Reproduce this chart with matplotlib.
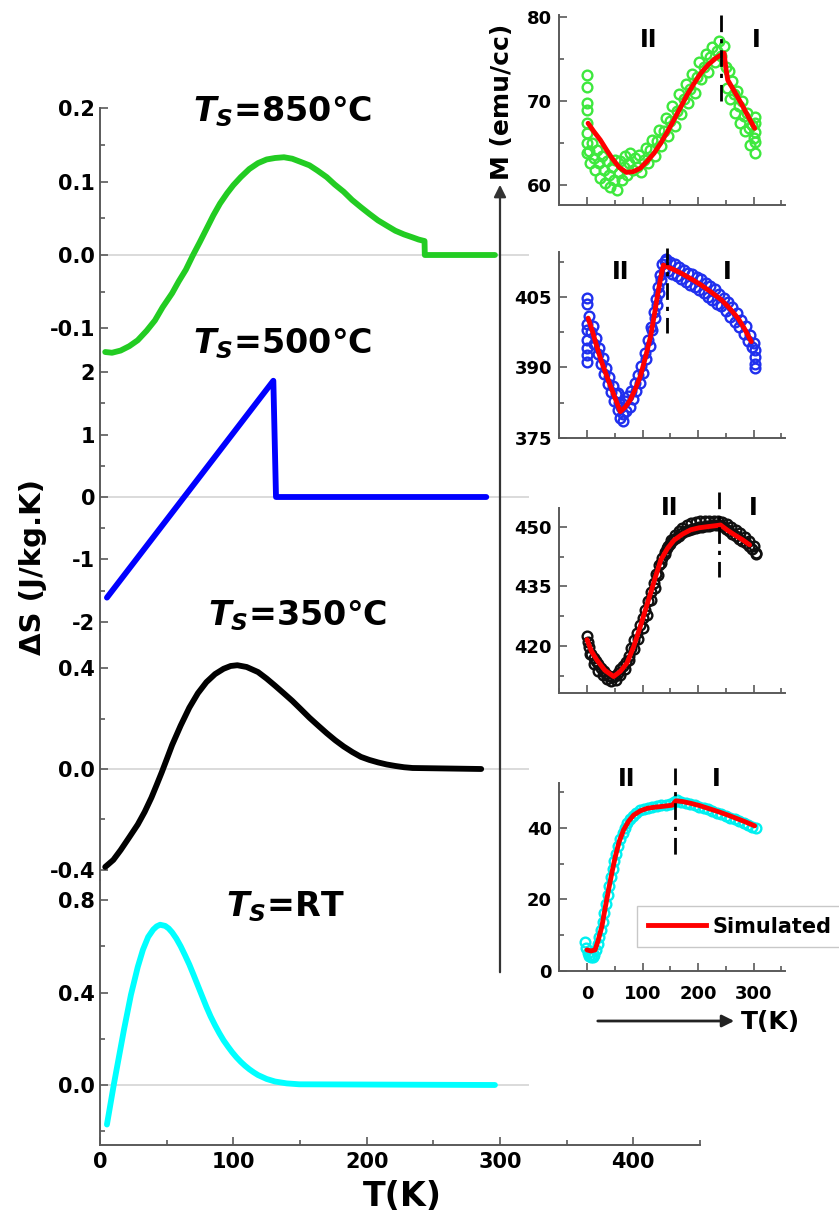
import matplotlib
matplotlib.use("Agg")
import matplotlib.pyplot as plt
from matplotlib.ticker import MultipleLocator, AutoMinorLocator, FormatStrFormatter
from matplotlib.lines import Line2D
from matplotlib.patches import FancyArrowPatch

'''Data read off the picture'''
# left: entropy change curves
T_850 = [3.9, 9.0, 15.5, 22.0, 28.3, 35.0, 41.2, 47.0, 54.1, 59.0, 64.4, 69.5, 74.7, 80.0, 85.0,
         90.0, 95.3, 100.0, 105.6, 112.0, 118.5, 125.0, 131.3, 138.0, 144.2, 150.0, 157.1, 163.0,
         170.0, 176.0, 182.8, 189.0, 195.7, 202.0, 208.6, 215.0, 221.5, 228.0, 234.4, 239.0,
         243.4, 243.6, 296.2]
dS_850 = [-0.132, -0.133, -0.130, -0.124, -0.116, -0.103, -0.089, -0.071, -0.052, -0.036, -0.020,
          -0.001, 0.017, 0.036, 0.054, 0.070, 0.084, 0.095, 0.106, 0.117, 0.125, 0.130, 0.132,
          0.133, 0.131, 0.127, 0.122, 0.115, 0.106, 0.096, 0.086, 0.075, 0.065, 0.056, 0.047,
          0.040, 0.033, 0.028, 0.024, 0.021, 0.019, 0.0, 0.0]

T_500 = [5.2, 130.0, 132.0, 289.7]
dS_500 = [-1.61, 1.86, 0.0, 0.0]

T_350 = [3.9, 10.0, 15.5, 22.0, 28.3, 33.5, 38.6, 42.5, 46.4, 50.3, 54.1, 60.5, 67.0, 73.4, 79.8,
         86.3, 92.7, 98.0, 103.0, 110.0, 118.5, 125.0, 131.3, 137.8, 144.2, 150.6, 157.1, 163.6,
         170.0, 176.4, 182.8, 189.3, 195.7, 202.0, 208.6, 215.0, 221.5, 228.0, 234.4, 285.9]
dS_350 = [-0.388, -0.360, -0.321, -0.270, -0.220, -0.170, -0.113, -0.063, -0.012, 0.042, 0.095,
          0.172, 0.243, 0.300, 0.344, 0.376, 0.397, 0.408, 0.411, 0.404, 0.384, 0.358, 0.330,
          0.300, 0.270, 0.237, 0.203, 0.172, 0.142, 0.114, 0.089, 0.067, 0.048, 0.036, 0.026,
          0.018, 0.012, 0.007, 0.004, 0.0]

T_RT = [5.2, 10.3, 18.0, 23.2, 28.3, 32.2, 36.1, 39.9, 42.5, 45.1, 48.9, 51.5, 54.1, 57.3, 60.5,
        63.7, 67.0, 70.2, 73.4, 76.6, 79.8, 83.0, 86.3, 89.5, 92.7, 96.0, 99.1, 102.3, 105.6,
        108.8, 112.0, 115.2, 118.5, 125.0, 131.3, 140.0, 149.4, 296.2]
dS_RT = [-0.171, 0.0, 0.24, 0.39, 0.51, 0.585, 0.64, 0.672, 0.686, 0.693, 0.688, 0.677, 0.66,
         0.633, 0.60, 0.562, 0.521, 0.476, 0.43, 0.384, 0.338, 0.296, 0.258, 0.224, 0.193, 0.166,
         0.142, 0.120, 0.100, 0.083, 0.068, 0.055, 0.043, 0.026, 0.015, 0.007, 0.003, 0.0]

# right insets: measured M (circles) and simulated fit (red)
T_dat1 = [0, 0, 0, 0, 0, 0, 0, 0, 4, 6, 9, 12, 15, 18, 21, 24, 27, 30, 33, 36, 39, 42, 45, 48, 51,
          54, 57, 60, 63, 66, 69, 72, 75, 78, 82, 86, 90, 94, 98, 102, 106, 110, 114, 118, 122,
          126, 130, 134, 138, 142, 146, 150, 154, 158, 162, 166, 170, 174, 178, 182, 186, 190,
          194, 198, 202, 206, 210, 214, 218, 222, 226, 230, 234, 238, 242, 246, 250, 252, 255,
          258, 261, 264, 267, 270, 273, 276, 279, 282, 285, 288, 291, 294, 297, 300, 303, 303,
          303, 303, 303]
M_dat1 = [73.1, 71.7, 69.8, 68.9, 67.4, 66.2, 65.0, 63.8, 64.0, 62.6, 65.0, 63.2, 61.8, 64.2, 62.6,
          60.8, 63.4, 61.8, 60.2, 62.8, 61.2, 59.8, 62.2, 60.6, 63.0, 59.4, 61.4, 62.8, 60.6, 62.2,
          63.4, 61.2, 62.6, 63.8, 61.8, 63.2, 62.2, 63.6, 61.6, 63.0, 64.4, 62.6, 64.2, 65.4, 63.4,
          65.2, 66.6, 64.6, 66.4, 68.0, 65.8, 67.6, 69.4, 67.0, 68.8, 70.8, 68.4, 70.2, 72.0, 69.8,
          71.4, 73.2, 71.0, 72.8, 74.6, 72.6, 74.0, 75.6, 73.4, 75.2, 76.4, 74.6, 76.0, 77.2, 75.4,
          76.6, 74.0, 71.6, 73.6, 70.2, 72.4, 70.8, 68.6, 71.2, 69.4, 67.4, 70.0, 68.2, 66.4, 68.6,
          66.8, 64.8, 67.2, 65.6, 68.1, 67.4, 66.3, 65.1, 63.8]
T_fit1 = [2, 12, 24, 35, 45, 58, 71, 84, 96, 108, 121, 133, 145, 157, 169, 181, 193, 205, 218, 232,
          247, 250, 253.6, 266, 278, 290, 302]
M_fit1 = [67.35, 66.4, 65.36, 64.2, 63.2, 62.1, 61.5, 61.6, 62.0, 62.8, 63.8, 65.0, 66.35, 67.8,
          69.3, 70.8, 72.1, 73.3, 74.3, 75.1, 75.7, 74.0, 72.5, 71.1, 69.7, 68.2, 66.75]

T_dat2 = [0, 0, 0, 0, 0, 0, 0, 0, 4, 7, 10, 13, 16, 19, 22, 25, 28, 31, 34, 37, 40, 43, 46, 49,
          52, 55, 56, 58, 60, 62, 64, 65, 68, 71, 74, 77, 80, 83, 86, 89, 92, 95, 98, 101, 104,
          107, 110, 113, 116, 118, 120, 122, 124, 126, 128, 130, 132, 134, 136, 138, 140, 142,
          146, 150, 154, 158, 162, 166, 170, 174, 178, 182, 186, 190, 194, 198, 202, 206, 210,
          214, 218, 222, 226, 230, 234, 238, 242, 246, 250, 254, 258, 262, 266, 270, 274, 278,
          282, 286, 290, 294, 297, 300, 302, 302, 303, 302]
M_dat2 = [404.8, 403.6, 399.2, 398.0, 395.8, 394.2, 392.6, 391.2, 401.0, 397.6, 398.9, 394.9,
          396.2, 392.8, 394.2, 390.7, 392.0, 388.6, 389.9, 386.5, 388.0, 384.7, 386.1, 382.8,
          384.3, 380.9, 384.6, 382.4, 379.2, 381.5, 378.6, 380.0, 382.8, 380.8, 383.9, 381.7,
          385.0, 383.3, 386.6, 384.9, 388.4, 386.6, 390.4, 388.9, 393.0, 391.8, 395.9, 394.6,
          398.6, 397.9, 401.8, 400.6, 404.6, 403.2, 407.2, 405.8, 409.6, 408.6, 412.0, 410.6,
          412.6, 413.0, 410.6, 412.4, 409.9, 412.0, 409.4, 411.4, 408.8, 410.8, 408.2, 410.2,
          407.6, 409.9, 407.2, 409.2, 406.4, 408.8, 405.8, 408.0, 405.0, 407.4, 404.4, 406.6,
          403.6, 405.6, 403.0, 404.8, 402.0, 403.9, 400.8, 402.8, 399.6, 401.6, 398.6, 400.2,
          397.2, 398.8, 395.6, 397.0, 394.4, 395.2, 393.8, 392.2, 390.8, 389.9]
T_fit2 = [2, 10, 17.6, 26, 35.8, 48, 60, 69, 78, 87, 96, 105, 114.5, 120.5, 126.7, 132, 137.6, 153,
          169, 187, 205, 223, 242, 257, 272, 284, 296]
M_fit2 = [400.5, 397.6, 394.5, 391.3, 388.1, 384.3, 380.6, 381.6, 383.1, 385.4, 388.1, 392.0,
          396.6, 400.6, 405.1, 408.6, 411.8, 411.0, 410.1, 408.9, 407.6, 406.1, 404.4, 402.6,
          400.5, 398.2, 395.5]

T_dat3a = [0, 4, 8, 12, 16, 20, 25, 30, 35, 40, 45, 50, 55, 60, 65, 70, 75, 80, 85, 90, 95, 100,
           105, 110, 115, 120, 125, 130, 135, 140, 145, 150, 155, 160, 166, 172, 178, 184, 190,
           196, 202, 208, 214, 220, 226, 232, 238, 244, 250, 256, 262, 268, 274, 280, 286, 292,
           298, 304]
M_dat3a = [422.5, 419.8, 418.0, 416.9, 416.2, 415.4, 414.5, 413.6, 412.9, 412.4, 412.2, 412.5,
           413.3, 414.2, 415.0, 415.9, 417.4, 419.4, 421.5, 423.3, 425.2, 427.0, 429.1, 431.3,
           433.5, 435.8, 438.2, 440.4, 442.1, 443.6, 444.8, 445.8, 446.6, 447.2, 447.8, 448.4,
           448.9, 449.3, 449.6, 449.8, 450.0, 450.1, 450.2, 450.3, 450.4, 450.5, 450.6, 450.3,
           449.6, 448.9, 448.3, 447.7, 447.1, 446.5, 445.9, 445.3, 444.5, 443.2]
T_dat3b = [2, 6, 12, 20, 28, 36, 44, 52, 60, 68, 76, 84, 92, 100, 108, 116, 122, 128, 134, 140,
           146, 152, 158, 165, 172, 180, 188, 196, 204, 212, 220, 228, 236, 244, 252, 260, 268,
           276, 284, 292, 300, 305]
M_dat3b = [421.0, 418.0, 415.5, 413.8, 412.6, 411.6, 411.2, 411.4, 412.6, 414.3, 416.5, 419.2,
           421.8, 424.5, 427.8, 431.5, 434.5, 437.8, 440.8, 443.3, 445.2, 446.8, 447.9, 448.9,
           449.7, 450.4, 450.9, 451.2, 451.4, 451.5, 451.6, 451.6, 451.6, 451.3, 450.8, 450.1,
           449.3, 448.4, 447.5, 446.5, 445.3, 443.5]
T_fit3 = [0, 8, 17.6, 32, 48, 60, 72, 84, 96, 105, 114.5, 124, 133, 145, 157, 172, 187, 202, 218,
          230, 240.6, 253, 266, 280, 293]
M_fit3 = [421.6, 418.7, 416.5, 413.9, 412.3, 413.6, 415.7, 419.8, 424.9, 429.0, 433.3, 437.7, 441.7,
          444.6, 446.7, 448.2, 449.3, 449.8, 450.1, 450.3, 450.5, 449.2, 448.0, 446.8, 445.5]

T_dat4 = [-3, -1, 1, 4, 7, 10, 13, 16, 19, 22, 25, 28, 31, 34, 37, 40, 43, 46, 49, 52, 56, 60,
          64, 68, 72, 77, 82, 88, 95, 102, 110, 118, 126, 134, 142, 150, 156, 162, 170, 178, 186,
          194, 202, 210, 218, 226, 234, 242, 250, 258, 266, 274, 282, 290, 298, 305]
M_dat4 = [8.0, 6.5, 5.0, 4.2, 3.8, 4.0, 4.6, 6.0, 7.6, 9.5, 11.5, 13.8, 16.3, 18.8, 21.3, 23.8,
          26.2, 28.5, 30.7, 32.7, 35.0, 37.0, 38.7, 40.1, 41.3, 42.5, 43.4, 44.2, 44.9, 45.3,
          45.7, 45.9, 46.1, 46.3, 46.5, 46.8, 47.3, 47.7, 47.4, 47.1, 46.8, 46.4, 46.0, 45.6,
          45.2, 44.8, 44.3, 43.9, 43.4, 42.9, 42.4, 41.9, 41.4, 40.9, 40.4, 40.0]
T_fit4 = [0, 7, 14.5, 20, 26.7, 32, 38.8, 45, 51, 58, 66, 75, 84, 96, 108.5, 121, 133, 144, 154,
          160, 172, 187, 202, 218, 236, 254, 269, 284, 302]
M_fit4 = [5.9, 5.6, 5.9, 8.5, 12.4, 17.0, 22.7, 27.6, 32.0, 36.2, 39.5, 41.9, 43.6, 44.8, 45.5,
          45.8, 46.0, 46.2, 46.4, 47.6, 47.4, 46.9, 46.3, 45.5, 44.6, 43.6, 42.7, 41.8, 40.6]

titles = ["=850°C", "=500°C", "=350°C", "=RT"]
T_cross = [242.3, 145, 238.4, 158.6]   # dash-dot transition line
'''Data read off the picture'''


plt.rcParams.update({
    "font.family": "DejaVu Sans",
    "font.weight": "bold",
    "axes.unicode_minus": False,
    "mathtext.fontset": "custom",
    "mathtext.it": "DejaVu Sans:italic:bold",
    "mathtext.rm": "DejaVu Sans:bold",
    "mathtext.bf": "DejaVu Sans:bold",
})

W, H = 839, 1218
fig = plt.figure(figsize=(W / 100, H / 100), dpi=100)
GREY = "#5a5a5a"


def px_box(l, t, r, b):
    return [l / W, 1 - b / H, (r - l) / W, (b - t) / H]


def lims(pa, va, pb, vb, top, bot):
    k = (va - vb) / (pb - pa)
    return vb - (bot - pb) * k, va + (pa - top) * k


def style(ax, labelsize, show_x):
    for s in ["top", "right"]:
        ax.spines[s].set_visible(False)
    ax.spines["left"].set_color(GREY)
    ax.spines["bottom"].set_color(GREY)
    ax.spines["left"].set_linewidth(1.4)
    ax.spines["bottom"].set_linewidth(1.4)
    ax.patch.set_alpha(0)
    ax.tick_params(which="both", direction="in", color=GREY, width=1.2, labelsize=labelsize)
    ax.tick_params(which="major", length=6)
    ax.tick_params(which="minor", length=3.5)
    if not show_x:
        ax.spines["bottom"].set_visible(False)
        ax.tick_params(axis="x", which="both", bottom=False, labelbottom=False)


# ---- left stacked panels ----
left_panels = [
    (T_850, dS_850, "#22cc22", (108, 365), lims(108, 0.2, 255, 0.0, 108, 365), 0.1, "%.1f"),
    (T_500, dS_500, "#0000ff", (365, 631), lims(372, 2, 497, 0, 365, 631), 1, "%d"),
    (T_350, dS_350, "#000000", (631, 880), lims(668, 0.4, 769, 0.0, 631, 880), 0.4, "%.1f"),
    (T_RT, dS_RT, "#00ffff", (880, 1145), lims(900, 0.8, 1085, 0.0, 880, 1145), 0.4, "%.1f"),
]
for i, (T, dS, col, (top, bot), yl, step, fmt) in enumerate(left_panels):
    ax = fig.add_axes(px_box(100, top, 700, bot))
    last = i == len(left_panels) - 1
    style(ax, 15, last)
    ax.set_xlim(0, 450)
    ax.set_ylim(yl[0] - 1e-4 * step, yl[1] + 1e-4 * step)
    ax.yaxis.set_major_locator(MultipleLocator(step))
    ax.yaxis.set_minor_locator(AutoMinorLocator(2))
    ax.yaxis.set_major_formatter(FormatStrFormatter(fmt))
    ax.hlines(0, 0, 322, color="#d8d8d8", lw=1.3, zorder=1)
    ax.plot(T, dS, color=col, lw=4.2, solid_capstyle="round", solid_joinstyle="round", zorder=3)
    if last:
        ax.xaxis.set_major_locator(MultipleLocator(100))
        ax.xaxis.set_minor_locator(MultipleLocator(50))
        ax.tick_params(axis="x", pad=5)

title_pos = [(283, 121), (283, 353), (298, 625), (285, 916)]
for txt, (x, y) in zip(titles, title_pos):
    fig.text(x / W, 1 - y / H, r"$T_S$" + txt, ha="center", va="baseline",
             fontsize=24, fontweight="bold")

fig.text(33 / W, 1 - 567 / H, "ΔS (J/kg.K)", rotation=90, ha="center", va="center",
         fontsize=21, fontweight="bold")
fig.text(402 / W, 1 - 1197 / H, "T(K)", ha="center", va="center", fontsize=24, fontweight="bold")

# ---- right insets ----
insets = [
    (T_dat1, M_dat1, T_fit1, M_fit1, "#3ee83e", (15, 205), lims(17, 80, 185, 60, 15, 205), 10),
    (T_dat2, M_dat2, T_fit2, M_fit2, "#2030ee", (252, 438), lims(297, 405, 438, 375, 252, 438), 15),
    (T_dat3a + T_dat3b, M_dat3a + M_dat3b, T_fit3, M_fit3, "#101010", (508, 693),
     lims(527, 450, 646, 420, 508, 693), 15),
    (T_dat4, M_dat4, T_fit4, M_fit4, "#00f0f0", (783, 971), lims(828, 40, 971, 0, 783, 971), 20),
]
lab_pos = [((110.7, 77.3), (304.5, 77.3)), ((61, 410.3), (253, 410.3)),
           ((149.5, 454.8), (300, 454.8)), ((72, 53.7), (233, 53.7))]
cross_span = [(80.2, 70.0), (415.5, 397.4), (458.8, 437.4), (56.8, 31.9)]

for i, (Td, Md, Tf, Mf, col, (top, bot), yl, step) in enumerate(insets):
    ax = fig.add_axes(px_box(559, top, 785, bot))
    style(ax, 13, True)
    ax.set_xlim((559 - 587) / 0.555, (785 - 587) / 0.555)
    ax.set_ylim(yl[0] - 1e-3, yl[1])
    ax.yaxis.set_major_locator(MultipleLocator(step))
    ax.yaxis.set_minor_locator(AutoMinorLocator(2))
    ax.xaxis.set_major_locator(MultipleLocator(100))
    ax.xaxis.set_minor_locator(MultipleLocator(50))
    ax.tick_params(axis="y", pad=5)
    ax.tick_params(axis="x", pad=10, labelbottom=(i == 3))
    ax.plot(Td, Md, "o", mfc="none", mec=col, ms=7, mew=1.7, zorder=2, clip_on=False)
    ax.plot(Tf, Mf, color="#ff0000", lw=3.5, solid_capstyle="round", solid_joinstyle="round",
            zorder=3)
    ax.plot([T_cross[i], T_cross[i]], cross_span[i], color="black", lw=2,
            linestyle=(0, (6, 2.5, 1.5, 2.5)), zorder=4, clip_on=False)
    (x2, y2), (x1, y1) = lab_pos[i]
    ax.text(x2, y2, "II", ha="center", va="center", fontsize=17, fontweight="bold", clip_on=False)
    ax.text(x1, y1, "I", ha="center", va="center", fontsize=17, fontweight="bold", clip_on=False)
    if i == 3:
        ax.legend(handles=[Line2D([], [], color="#ff0000", lw=3.5)], labels=["Simulated"],
                  loc="lower left", bbox_to_anchor=(0.347, 0.128), borderaxespad=0,
                  fancybox=False, edgecolor="#c8c8c8", framealpha=1, handlelength=2.8,
                  handletextpad=0.3, borderpad=0.5, prop=dict(weight="bold", size=15))

# axis arrows for the insets
fig.add_artist(FancyArrowPatch((500 / W, 1 - 975 / H), (500 / W, 1 - 182 / H),
                               transform=fig.transFigure, arrowstyle="-|>", mutation_scale=18,
                               lw=1.6, color="#333333"))
fig.add_artist(FancyArrowPatch((595 / W, 1 - 1021 / H), (737 / W, 1 - 1021 / H),
                               transform=fig.transFigure, arrowstyle="-|>", mutation_scale=18,
                               lw=2, color="#222222"))
fig.text(502 / W, 1 - 102 / H, "M (emu/cc)", rotation=90, ha="center", va="center",
         fontsize=18, fontweight="bold")
fig.text(770 / W, 1 - 1022 / H, "T(K)", ha="center", va="center", fontsize=18, fontweight="bold")

fig.savefig("out.png", dpi=100)
